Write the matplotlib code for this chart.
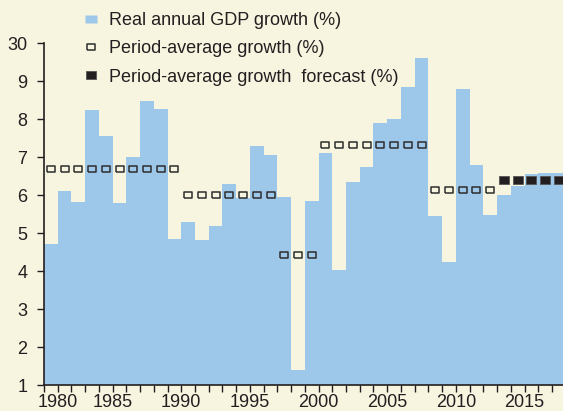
import matplotlib
matplotlib.use("Agg")
import matplotlib.pyplot as plt
import matplotlib.transforms as mtransforms
from matplotlib.lines import Line2D

# data
years = list(range(1980, 2018))
gdp_growth = [4.72, 6.11, 5.83, 8.25, 7.56, 5.80, 7.01, 8.48, 8.27, 4.85,
              5.30, 4.82, 5.19, 6.30, 5.93, 7.30, 7.06, 5.95, 1.40, 5.85,
              7.12, 4.03, 6.35, 6.74, 7.90, 8.01, 8.85, 9.62, 5.45, 4.24,
              8.80, 6.80, 5.48, 6.01, 6.25, 6.57, 6.59, 6.59]
avg_periods = [(1980, 1989), (1990, 1996), (1997, 1999), (2000, 2007), (2008, 2012)]
avg_values = [6.70, 6.01, 4.43, 7.32, 6.15]
forecast_period = (2013, 2017)
forecast_value = 6.39
ytick_values = [1, 2, 3, 4, 5, 6, 7, 8, 9, 10]
ytick_labels = ["1", "2", "3", "4", "5", "6", "7", "8", "9", "30"]
xtick_years = [1980, 1985, 1990, 1995, 2000, 2005, 2010, 2015]

BG = "#f7f4e0"
BLUE = "#9ec8ea"
DARK = "#231f20"
EDGE = "#2e2e2e"

plt.rcParams["font.family"] = ["Liberation Sans", "DejaVu Sans"]

fig = plt.figure(figsize=(5.63, 4.11), dpi=100, facecolor=BG)
ax = fig.add_axes([44 / 563, 26 / 411, 521.7 / 563, 341.5 / 411])
ax.set_facecolor(BG)

ax.bar(years, gdp_growth, width=1.0, align="edge", color=BLUE, linewidth=0, zorder=1)

# rectangular marker, a bit wider than tall
rect = [(-1, -0.74), (1, -0.74), (1, 0.74), (-1, 0.74), (-1, -0.74)]
flat = [(-1, -0.62), (1, -0.62), (1, 0.62), (-1, 0.62), (-1, -0.62)]

for (start, end), val in zip(avg_periods, avg_values):
    xs = [y + 0.5 for y in years if start <= y <= end]
    ax.plot(xs, [val] * len(xs), ls="none", marker=rect, ms=6.0,
            mfc="none", mec=EDGE, mew=1.1, zorder=3)

fx = [y + 0.5 for y in years if forecast_period[0] <= y <= forecast_period[1]]
ax.plot(fx, [forecast_value] * len(fx), ls="none", marker=rect, ms=7.2,
        mfc=DARK, mec="#555555", mew=0.6, zorder=3)

ax.set_xlim(years[0], years[-1] + 1)
ax.set_ylim(1, 10)

ax.set_yticks(ytick_values)
ax.set_yticklabels(ytick_labels)
ax.set_xticks(xtick_years)
ax.set_xticklabels([str(y) for y in xtick_years])
ax.set_xticks([y for y in years] + [years[-1] + 1], minor=True)

ax.tick_params(axis="both", which="both", direction="out", color=DARK,
               width=1.0, labelsize=13, labelcolor=DARK)
ax.tick_params(axis="y", length=5, pad=7)
ax.tick_params(axis="x", which="both", length=5, pad=1.5)

# first year label nudged right so it stays clear of the corner
shift = mtransforms.ScaledTranslation(13.7 / 100, 0, fig.dpi_scale_trans)
first = ax.get_xticklabels()[0]
first.set_transform(first.get_transform() + shift)

for side in ["top", "right"]:
    ax.spines[side].set_visible(False)
for side in ["left", "bottom"]:
    ax.spines[side].set_color(DARK)
    ax.spines[side].set_linewidth(1.2)

handles = [
    Line2D([], [], ls="none", marker=rect, ms=8.0, mfc=BLUE, mec="none"),
    Line2D([], [], ls="none", marker=flat, ms=6.2, mfc="none", mec=EDGE, mew=1.1),
    Line2D([], [], ls="none", marker=rect, ms=7.2, mfc=DARK, mec="#555555", mew=0.6),
]
labels = ["Real annual GDP growth (%)", "Period-average growth (%)",
          "Period-average growth  forecast (%)"]
leg = fig.legend(handles, labels, loc="upper left",
                 bbox_to_anchor=(81.5 / 563, 1 - 12 / 411),
                 frameon=False, fontsize=13, handlelength=1.0,
                 handletextpad=0.5, labelspacing=0.63, borderpad=0, borderaxespad=0,
                 labelcolor=DARK)

fig.savefig("out.png", dpi=100, facecolor=BG)
